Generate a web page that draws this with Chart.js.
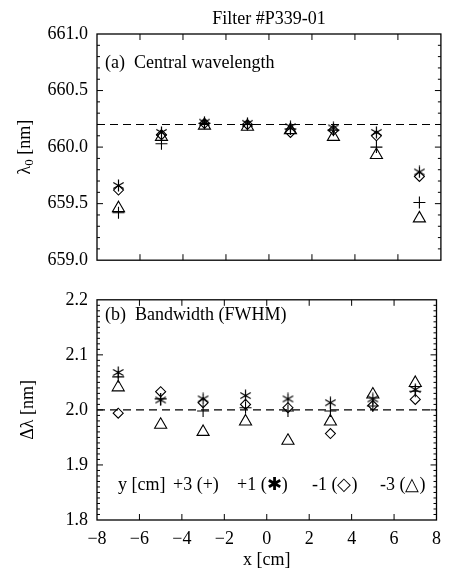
<!DOCTYPE html>
<html lang="en">
<head>
<meta charset="UTF-8">
<title>Filter #P339-01</title>
<script src="https://cdn.jsdelivr.net/npm/chart.js"></script>
<style>
  body { margin: 0; background: #fff; }
  #wrap { position: relative; width: 449px; height: 569px; }
  canvas { position: absolute; left: 0; }
  #topChart { top: 0; }
  #bottomChart { top: 280px; }
</style>
</head>
<body>
<div id="wrap">
  <canvas id="topChart" width="449" height="280"></canvas>
  <canvas id="bottomChart" width="449" height="289"></canvas>
</div>
<script>
// x positions [cm]
const xPos = [-7, -5, -3, -1, 1, 3, 5, 7];
const xTicks = [-8, -6, -4, -2, 0, 2, 4, 6, 8];

// (a) central wavelength [nm], one array per y position
const lamPlus3  = [659.42, 660.03, 660.21, 660.20, 660.16, 660.15, 660.00, 659.51];
const lamPlus1  = [659.66, 660.13, 660.22, 660.21, 660.18, 660.17, 660.13, 659.78];
const lamMinus1 = [659.62, 660.11, 660.21, 660.20, 660.13, 660.15, 660.10, 659.74];
const lamMinus3 = [659.46, 660.09, 660.19, 660.18, 660.15, 660.09, 659.93, 659.37];
const lamRef = 660.2;

// (b) bandwidth FWHM [nm]
const bwPlus3  = [2.060, 2.020, 1.998, 2.004, 1.998, 1.998, 2.007, 2.034];
const bwPlus1  = [2.068, 2.018, 2.020, 2.026, 2.020, 2.013, 2.020, 2.037];
const bwMinus1 = [1.994, 2.033, 2.013, 2.010, 2.004, 1.957, 2.008, 2.019];
const bwMinus3 = [2.041, 1.973, 1.960, 1.979, 1.944, 1.979, 2.028, 2.049];
const bwRef = 2.0;

Chart.defaults.font.family = "'Liberation Serif', 'Times New Roman', serif";
Chart.defaults.color = '#000';

const FONT = "18px 'Liberation Serif', serif";

// six-spoke asterisk marker
function makeAsterisk(size) {
  const c = document.createElement('canvas');
  c.width = size; c.height = size;
  const g = c.getContext('2d');
  const r = size / 2 - 0.5, m = size / 2;
  g.strokeStyle = '#000';
  g.lineWidth = 1.2;
  g.beginPath();
  [90, 30, 150].forEach(a => {
    const t = a * Math.PI / 180;
    g.moveTo(m - r * Math.cos(t), m - r * Math.sin(t));
    g.lineTo(m + r * Math.cos(t), m + r * Math.sin(t));
  });
  g.stroke();
  return c;
}
const asterisk = makeAsterisk(13);

function pts(vals) {
  return vals.map((v, i) => ({ x: xPos[i], y: v }));
}

function series(vals, style, radius) {
  return {
    data: pts(vals),
    pointStyle: style,
    pointRadius: radius,
    pointBorderColor: '#000',
    pointBackgroundColor: 'rgba(0,0,0,0)',
    pointBorderWidth: 1.1,
    showLine: false
  };
}

function refLine(v) {
  return {
    data: [{ x: -8, y: v }, { x: 8, y: v }],
    showLine: true,
    borderColor: '#000',
    borderWidth: 1.2,
    borderDash: [8, 5],
    pointRadius: 0
  };
}

// frame with inward major/minor ticks
function framePlugin(minor, major) {
  return {
    id: 'frame',
    afterDatasetsDraw(chart) {
      const { ctx, chartArea: a, scales: { x, y } } = chart;
      ctx.save();
      ctx.strokeStyle = '#000';
      ctx.lineWidth = 1.3;
      ctx.strokeRect(a.left, a.top, a.width, a.height);
      ctx.lineWidth = 1;
      ctx.beginPath();
      xTicks.forEach(v => {
        const px = x.getPixelForValue(v);
        if (px <= a.left + 1 || px >= a.right - 1) return;
        ctx.moveTo(px, a.bottom); ctx.lineTo(px, a.bottom - 6);
        ctx.moveTo(px, a.top); ctx.lineTo(px, a.top + 6);
      });
      const n = Math.round((y.max - y.min) / minor);
      const per = Math.round(major / minor);
      for (let i = 1; i < n; i++) {
        const py = y.getPixelForValue(y.min + i * minor);
        const len = i % per === 0 ? 6 : 3;
        ctx.moveTo(a.left, py); ctx.lineTo(a.left + len, py);
        ctx.moveTo(a.right, py); ctx.lineTo(a.right - len, py);
      }
      ctx.stroke();
      ctx.restore();
    }
  };
}

const textPlugin = (draw) => ({ id: 'texts', afterDraw(chart) { const c = chart.ctx; c.save(); c.fillStyle = '#000'; c.font = FONT; draw(chart, c); c.restore(); } });

function yScale(min, max, step) {
  return {
    type: 'linear', min: min, max: max,
    grid: { display: false, drawTicks: false },
    border: { display: false },
    ticks: { stepSize: step, padding: 9, font: { size: 18 }, callback: v => v.toFixed(1) },
    afterFit(s) { s.width = 97; }
  };
}

// (a) central wavelength
new Chart(document.getElementById('topChart'), {
  type: 'scatter',
  data: {
    datasets: [
      refLine(lamRef),
      series(lamMinus3, 'triangle', 7),
      series(lamPlus3, 'cross', 6),
      series(lamMinus1, 'rectRot', 5),
      series(lamPlus1, asterisk, 6)
    ]
  },
  options: {
    responsive: false,
    animation: false,
    layout: { padding: { left: 0, right: 6, top: 34, bottom: 17 } },
    plugins: { legend: { display: false }, tooltip: { enabled: false } },
    scales: {
      x: { type: 'linear', min: -8, max: 8, display: false },
      y: yScale(659.0, 661.0, 0.5)
    }
  },
  plugins: [framePlugin(0.1, 0.5), textPlugin((chart, c) => {
    const a = chart.chartArea;
    c.textAlign = 'center'; c.textBaseline = 'middle';
    c.fillText('Filter #P339-01', (a.left + a.right) / 2, 19);
    c.textAlign = 'left';
    c.fillText('(a)  Central wavelength', 105, 63);
    // y title: lambda_0 [nm]
    c.translate(25, (a.top + a.bottom) / 2);
    c.rotate(-Math.PI / 2);
    const w1 = c.measureText('\u03bb').width;
    const w3 = c.measureText(' [nm]').width;
    c.font = "13px 'Liberation Serif', serif";
    const w2 = c.measureText('0').width;
    const x0 = -(w1 + w2 + w3) / 2;
    c.fillText('0', x0 + w1, 5);
    c.font = FONT;
    c.fillText('\u03bb', x0, 0);
    c.fillText(' [nm]', x0 + w1 + w2, 0);
  })]
});

// (b) bandwidth
new Chart(document.getElementById('bottomChart'), {
  type: 'scatter',
  data: {
    datasets: [
      refLine(bwRef),
      series(bwMinus3, 'triangle', 7),
      series(bwPlus3, 'cross', 6),
      series(bwMinus1, 'rectRot', 5),
      series(bwPlus1, asterisk, 6)
    ]
  },
  options: {
    responsive: false,
    animation: false,
    layout: { padding: { left: 0, right: 6, top: 12, bottom: 0 } },
    plugins: { legend: { display: false }, tooltip: { enabled: false } },
    scales: {
      x: {
        type: 'linear', min: -8, max: 8,
        grid: { display: false, drawTicks: false },
        border: { display: false },
        ticks: {
          stepSize: 2, padding: 8, font: { size: 18 }, maxRotation: 0,
          callback: v => (v < 0 ? '\u2212' + Math.abs(v) : String(v))
        },
        afterFit(s) { s.height = 49; }
      },
      y: yScale(1.8, 2.2, 0.1)
    }
  },
  plugins: [framePlugin(0.01, 0.1), textPlugin((chart, c) => {
    const a = chart.chartArea;
    c.textBaseline = 'middle';
    c.textAlign = 'left';
    c.fillText('(b)  Bandwidth (FWHM)', 105, 35);
    c.fillText('y [cm]', 118, 205);
    c.fillText('+3 (+)', 173, 205);
    c.fillText('+1 (\u2731)', 237, 205);
    c.fillText('-1 (\u25c7)', 312, 205);
    c.fillText('-3 (\u25b3)', 380, 205);
    c.textAlign = 'center';
    c.fillText('x [cm]', (a.left + a.right) / 2, 280);
    c.translate(28, (a.top + a.bottom) / 2);
    c.rotate(-Math.PI / 2);
    c.fillText('\u0394\u03bb [nm]', 0, 0);
  })]
});
</script>
</body>
</html>
